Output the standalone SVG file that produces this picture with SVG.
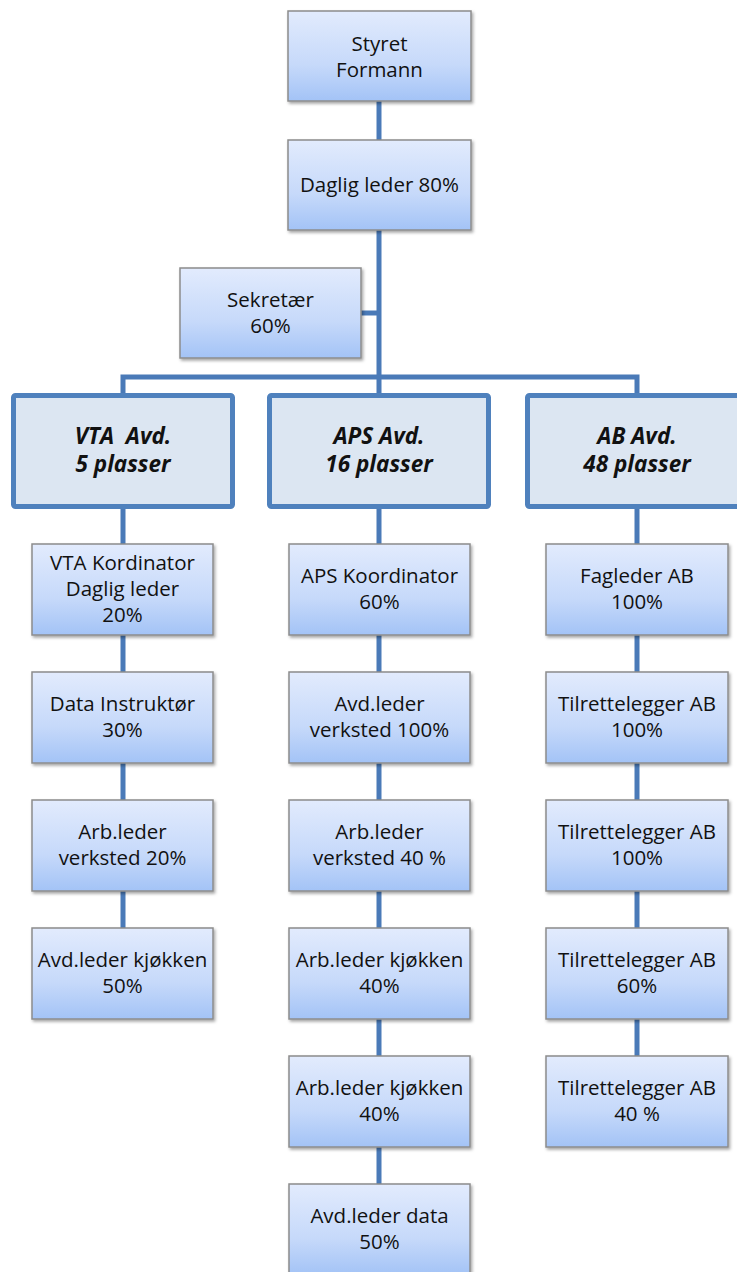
<svg xmlns="http://www.w3.org/2000/svg" width="737" height="1272" viewBox="0 0 737 1272">
<defs>
<linearGradient id="g" x1="0" y1="0" x2="0" y2="1">
<stop offset="0" stop-color="#e2ebfd"/>
<stop offset="0.6" stop-color="#c6d9fa"/>
<stop offset="1" stop-color="#a3c3f6"/>
</linearGradient>
<filter id="sh" x="-10%" y="-10%" width="125%" height="130%">
<feDropShadow dx="1.5" dy="2" stdDeviation="1.5" flood-color="#000" flood-opacity="0.35"/>
</filter>
</defs>
<style>
.box{fill:url(#g);stroke:#8c8c8c;stroke-width:1.5;filter:url(#sh)}
.dept{fill:#dce6f2;stroke:#4f81bd;stroke-width:5}
.t{font-family:"Open Sans","Liberation Sans",sans-serif;font-size:20.5px;fill:#111;text-anchor:middle}
.d{font-family:"Open Sans","Liberation Sans",sans-serif;font-size:22.5px;font-weight:bold;font-style:italic;fill:#111;text-anchor:middle;white-space:pre}
.c{stroke:#4a7ab8;stroke-width:5;fill:none}
</style>
<g id="connectors">
<line class="c" x1="379" y1="101" x2="379" y2="140"/>
<line class="c" x1="379" y1="230" x2="379" y2="395"/>
<line class="c" x1="361" y1="313" x2="379" y2="313"/>
<polyline class="c" points="123,395 123,377 637,377 637,395"/>
<line class="c" x1="123" y1="509" x2="123" y2="928"/>
<line class="c" x1="379" y1="509" x2="379" y2="1184"/>
<line class="c" x1="637" y1="509" x2="637" y2="1056"/>
</g>
<g id="styret"><rect class="box" x="288" y="11" width="183" height="90"/><text class="t" x="379.5" y="51">Styret</text><text class="t" x="379.5" y="77">Formann</text></g>
<g id="daglig"><rect class="box" x="288" y="140" width="183" height="90"/><text class="t" x="379.5" y="192">Daglig leder 80%</text></g>
<g id="sekretaer"><rect class="box" x="180" y="268" width="181" height="90"/><text class="t" x="270.5" y="307">Sekretær</text><text class="t" x="270.5" y="333">60%</text></g>
<g id="vta"><rect class="dept" x="13.5" y="395.5" width="219" height="111" rx="2"/><text class="d" x="123" y="444" xml:space="preserve">VTA  Avd.</text><text class="d" x="123" y="472">5 plasser</text></g>
<g id="aps"><rect class="dept" x="269.5" y="395.5" width="219" height="111" rx="2"/><text class="d" x="379" y="444">APS Avd.</text><text class="d" x="379" y="472">16 plasser</text></g>
<g id="ab"><rect class="dept" x="527.5" y="395.5" width="219" height="111" rx="2"/><text class="d" x="637" y="444">AB Avd.</text><text class="d" x="637" y="472">48 plasser</text></g>
<g id="vta1"><rect class="box" x="32" y="544" width="181" height="91"/><text class="t" x="122.5" y="570">VTA Kordinator</text><text class="t" x="122.5" y="596">Daglig leder</text><text class="t" x="122.5" y="622">20%</text></g>
<g id="vta2"><rect class="box" x="32" y="672" width="181" height="91"/><text class="t" x="122.5" y="711">Data Instruktør</text><text class="t" x="122.5" y="737">30%</text></g>
<g id="vta3"><rect class="box" x="32" y="800" width="181" height="91"/><text class="t" x="122.5" y="839">Arb.leder</text><text class="t" x="122.5" y="865">verksted 20%</text></g>
<g id="vta4"><rect class="box" x="32" y="928" width="181" height="91"/><text class="t" x="122.5" y="967">Avd.leder kjøkken</text><text class="t" x="122.5" y="993">50%</text></g>
<g id="aps1"><rect class="box" x="289" y="544" width="181" height="91"/><text class="t" x="379.5" y="583">APS Koordinator</text><text class="t" x="379.5" y="609">60%</text></g>
<g id="aps2"><rect class="box" x="289" y="672" width="181" height="91"/><text class="t" x="379.5" y="711">Avd.leder</text><text class="t" x="379.5" y="737">verksted 100%</text></g>
<g id="aps3"><rect class="box" x="289" y="800" width="181" height="91"/><text class="t" x="379.5" y="839">Arb.leder</text><text class="t" x="379.5" y="865">verksted 40 %</text></g>
<g id="aps4"><rect class="box" x="289" y="928" width="181" height="91"/><text class="t" x="379.5" y="967">Arb.leder kjøkken</text><text class="t" x="379.5" y="993">40%</text></g>
<g id="aps5"><rect class="box" x="289" y="1056" width="181" height="91"/><text class="t" x="379.5" y="1095">Arb.leder kjøkken</text><text class="t" x="379.5" y="1121">40%</text></g>
<g id="aps6"><rect class="box" x="289" y="1184" width="181" height="91"/><text class="t" x="379.5" y="1223">Avd.leder data</text><text class="t" x="379.5" y="1249">50%</text></g>
<g id="ab1"><rect class="box" x="546" y="544" width="182" height="91"/><text class="t" x="637" y="583">Fagleder AB</text><text class="t" x="637" y="609">100%</text></g>
<g id="ab2"><rect class="box" x="546" y="672" width="182" height="91"/><text class="t" x="637" y="711">Tilrettelegger AB</text><text class="t" x="637" y="737">100%</text></g>
<g id="ab3"><rect class="box" x="546" y="800" width="182" height="91"/><text class="t" x="637" y="839">Tilrettelegger AB</text><text class="t" x="637" y="865">100%</text></g>
<g id="ab4"><rect class="box" x="546" y="928" width="182" height="91"/><text class="t" x="637" y="967">Tilrettelegger AB</text><text class="t" x="637" y="993">60%</text></g>
<g id="ab5"><rect class="box" x="546" y="1056" width="182" height="91"/><text class="t" x="637" y="1095">Tilrettelegger AB</text><text class="t" x="637" y="1121">40 %</text></g>
</svg>
